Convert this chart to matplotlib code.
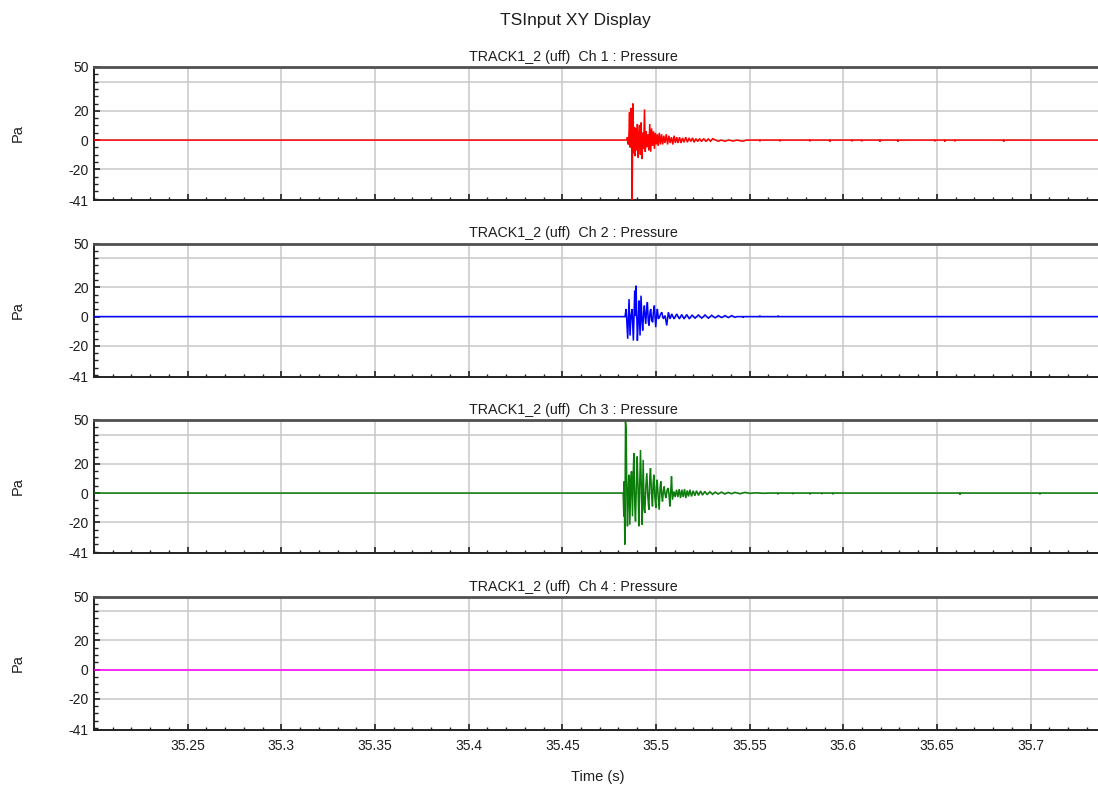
import numpy as np
import matplotlib
matplotlib.use("Agg")
import matplotlib.pyplot as plt
from matplotlib.ticker import FixedLocator, MultipleLocator, NullFormatter

plt.rcParams['font.family'] = ['Liberation Sans', 'DejaVu Sans']

# ---- axes ranges and ticks ----
T_START, T_END = 35.2, 35.736
Y_MIN, Y_MAX = -41, 50
x_major_ticks = [35.25, 35.3, 35.35, 35.4, 35.45, 35.5, 35.55, 35.6, 35.65, 35.7]
x_tick_labels = ['35.25', '35.3', '35.35', '35.4', '35.45', '35.5', '35.55', '35.6', '35.65', '35.7']
y_tick_values = [50, 20, 0, -20, -41]
y_tick_labels = ['50', '20', '0', '-20', '-41']
y_grid_values = [40, 20, 0, -20]

channel_titles = ['TRACK1_2 (uff)  Ch 1 : Pressure', 'TRACK1_2 (uff)  Ch 2 : Pressure',
                  'TRACK1_2 (uff)  Ch 3 : Pressure', 'TRACK1_2 (uff)  Ch 4 : Pressure']
channel_colors = ['#ff0000', '#0000ff', '#0a7d0a', '#ff00ff']

# ---- Ch 1: burst (ms after onset, Pa) + late small blips (s, Pa) ----
ch1_onset = 35.4843
ch1_ms = [0.0, 0.5, 0.9, 1.3, 1.6, 1.9, 2.3, 2.7, 3.0, 3.4, 3.8, 4.2, 4.6, 5.0, 5.4, 5.8,
          6.2, 6.6, 7.0, 7.4, 7.8, 8.2, 8.6, 9.1, 9.6, 10.0, 10.5, 10.9, 11.4, 11.9, 12.4,
          12.9, 13.4, 13.9, 14.4, 14.9, 15.4, 15.9, 16.4, 16.9, 17.5, 18.1, 18.7, 19.3,
          19.9, 20.5, 21.2, 21.9, 22.6, 23.3, 24.0, 24.7, 25.4, 26.1, 26.8, 27.5, 28.3,
          29.1, 29.9, 30.7, 31.6, 32.5, 33.4, 34.3, 35.2, 36.1, 37.0, 38.0, 39.0, 40.0,
          41.2, 42.4, 43.6, 44.8, 46.0, 47.5, 49.0, 50.5, 52.5, 54.5, 57.0, 59.0, 62.0, 64.0]
ch1_pa = [0, 2, -3, 4, 19, -5, 22, 3, -41, 25, -9, 9, -11, 8, -7, 11,
          -12, 4, 10, -10, 12, -13, 5, -6, 21, -8, 6, -5, 4, -7, 11,
          -8, 8, -4, 6, -6, 5, -3, 4, -4, 5, -3, 4, -3,
          3, -2, 4, -3, 3, -2, 2, -3, 3, -2, 2, -2, 2,
          -2, 1.5, -1.5, 2, -1.5, 1.5, -1, 1.5, -1.5, 1, -1, 1, -1,
          1, -1, 0.8, -0.8, 1, 0, -0.8, 0, -0.8, 0, -0.7, 0, -0.8, 0]
ch1_blip_t = [35.5555, 35.5662, 35.5822, 35.5929, 35.6046, 35.6099, 35.6196,
              35.6292, 35.6489, 35.6542, 35.6596, 35.6857]
ch1_blip_pa = [-0.8, -0.8, -0.8, -1.0, -0.8, -0.8, -1.0, -1.0, -0.8, -1.0, -0.8, -1.0]

# ---- Ch 2 ----
ch2_onset = 35.4835
ch2_ms = [0.0, 0.53, 0.89, 1.42, 2.14, 2.67, 3.20, 3.74, 4.45, 5.16, 5.52, 5.87, 6.59,
          7.12, 7.48, 8.01, 8.54, 9.08, 9.43, 9.97, 10.32, 11.04, 11.57, 11.93, 12.46,
          12.82, 13.35, 13.71, 14.24, 14.77, 15.13, 15.66, 16.38, 16.91, 17.27, 17.80,
          18.33, 19.05, 19.58, 20.47, 21.36, 22.25, 23.14, 24.03, 24.92, 26.17, 27.59,
          29.01, 30.26, 31.51, 32.93, 34.35, 35.78, 37.38, 39.16, 40.94, 42.72, 44.50,
          46.28, 48.06, 49.84, 51.62, 53.40, 55.18, 56.96, 58.74, 59.63]
ch2_pa = [0, 5.2, -1.6, -15.2, 12.0, -13.0, 0.7, 5.2, -16.4, 17.7, 0.7, 21.1, -16.4,
          -1.6, 10.9, -13.0, 14.3, -3.9, -9.5, 3.0, 7.5, -5.0, 5.2, 9.8, -3.9,
          -6.1, 3.0, 5.2, -2.7, -3.9, 3.0, 7.5, -7.3, 1.8, 5.2, -1.6,
          -0.5, 1.8, 3.0, -1.6, 0.7, -6.1, 3.0, -1.6, 1.8, -1.6, 1.8,
          -1.6, 1.4, -1.6, 1.4, -1.6, 1.1, -1.1, 1.1, -1.1, 1.1, -1.1,
          0.9, -0.9, 0.7, -0.7, 0.7, -0.7, 0.7, -0.5, 0]
ch2_blip_t = [35.5466, 35.5555, 35.5653]
ch2_blip_pa = [-0.7, 0.6, 0.6]

# ---- Ch 3 ----
ch3_onset = 35.4825
ch3_ms = [0.0, 0.36, 0.53, 0.89, 1.25, 1.60, 1.96, 2.31, 2.67, 3.03, 3.56, 4.09, 4.45,
          4.98, 5.34, 5.70, 6.23, 6.59, 7.12, 7.48, 8.01, 8.37, 8.72, 9.26, 9.79, 10.15,
          10.68, 11.21, 11.57, 12.10, 12.64, 13.17, 13.71, 14.24, 14.60, 15.13, 15.66,
          16.02, 16.38, 16.91, 17.44, 17.80, 18.16, 18.69, 19.22, 19.76, 20.11, 20.65,
          21.00, 21.54, 21.89, 22.43, 22.78, 23.50, 24.03, 24.56, 24.92, 25.45, 25.81,
          26.34, 27.06, 27.77, 28.48, 29.19, 29.90, 30.62, 31.33, 32.04, 32.75, 33.46,
          34.18, 34.89, 35.60, 36.49, 37.38, 38.27, 39.16, 40.23, 41.30, 42.36, 43.61,
          44.86, 46.28, 47.70, 49.13, 50.73, 52.51, 54.29, 56.07, 57.85, 59.63, 62.30,
          64.97, 67.64, 71.20, 74.76, 78.32]
ch3_pa = [0, -15.9, 8.0, -35.2, 48.9, 43.2, 0, -22.7, 0, 12.5, -21.6, 9.1, 14.8,
          -15.9, 11.4, 27.3, -9.1, -19.3, 9.1, 25.0, 0, -22.7, 0, 29.5, -2.3, -21.6,
          22.7, -11.4, -13.6, 4.5, 13.6, -2.3, -11.4, 11.4, 17.0, 0, -9.1,
          6.8, 12.5, -2.3, -10.2, 4.5, 9.1, -2.3, -11.4, 4.5, 8.0, -2.3,
          -5.7, 2.3, 4.5, -1.1, -3.4, 2.3, 3.4, -2.3, -9.1, 2.3, 11.4,
          -4.5, 1.1, -2.7, 2.3, -2.7, 2.7, -3.4, 2.3, -2.7, 2.7, -3.4,
          1.8, -2.3, 2.3, -2.3, 1.6, -1.8, 1.6, -1.6, 1.4, -1.4, 1.1,
          -1.1, 0.9, -0.9, 0.7, -0.7, 0.7, -0.7, 0.5, -0.5, 0.5, -0.5,
          0.5, -0.2, 0.2, -0.2, 0]
ch3_blip_t = [35.5651, 35.5731, 35.5822, 35.5886, 35.5945, 35.6623, 35.7050]
ch3_blip_pa = [-0.8, -0.6, -0.8, -0.6, -0.8, -1.0, -0.8]

# ---- Ch 4: flat ----
ch4_onset = 35.4840
ch4_ms = []
ch4_pa = []
ch4_blip_t = []
ch4_blip_pa = []

channels = [
    (ch1_onset, ch1_ms, ch1_pa, ch1_blip_t, ch1_blip_pa),
    (ch2_onset, ch2_ms, ch2_pa, ch2_blip_t, ch2_blip_pa),
    (ch3_onset, ch3_ms, ch3_pa, ch3_blip_t, ch3_blip_pa),
    (ch4_onset, ch4_ms, ch4_pa, ch4_blip_t, ch4_blip_pa),
]


def trace(onset, ms, pa, blip_t, blip_pa):
    """Assemble one channel's time series over the full window."""
    t = [T_START] + [onset + m / 1000.0 for m in ms]
    p = [0.0] + list(pa)
    for bt, bp in zip(blip_t, blip_pa):
        t += [bt - 0.0003, bt, bt + 0.0003]
        p += [0.0, bp, 0.0]
    t.append(T_END)
    p.append(0.0)
    return np.array(t), np.array(p)


W, H = 1098, 787
fig = plt.figure(figsize=(W / 100, H / 100), dpi=100)
fig.patch.set_facecolor('white')

text_color = '#1e1e1e'
grid_color = '#c8c8c8'

left_px, right_px = 94, 1098
panel_tops = [67, 243.5, 420, 596.5]
panel_h = 133

fig.text(575 / W, 1 - 20 / H, 'TSInput XY Display', ha='center', va='center',
         fontsize=12.5, color=text_color)

for i, (top, ch) in enumerate(zip(panel_tops, channels)):
    ax = fig.add_axes([left_px / W, 1 - (top + panel_h) / H,
                       (right_px - left_px) / W, panel_h / H])
    t, p = trace(*ch)
    ax.plot(t, p, color=channel_colors[i], lw=1.1, zorder=3, solid_joinstyle='miter')

    ax.set_xlim(T_START, T_END)
    ax.set_ylim(Y_MIN, Y_MAX)

    # grid
    for gx in x_major_ticks:
        ax.axvline(gx, color=grid_color, lw=1.1, zorder=1)
    for gy in y_grid_values:
        ax.axhline(gy, color=grid_color, lw=1.1, zorder=1)

    # spines
    ax.spines['right'].set_visible(False)
    ax.spines['top'].set_color('#505050')
    ax.spines['top'].set_linewidth(2.0)
    ax.spines['left'].set_color('#222222')
    ax.spines['left'].set_linewidth(1.4)
    ax.spines['bottom'].set_color('#222222')
    ax.spines['bottom'].set_linewidth(1.4)

    # ticks
    ax.xaxis.set_major_locator(FixedLocator(x_major_ticks))
    ax.xaxis.set_minor_locator(MultipleLocator(0.01))
    ax.yaxis.set_major_locator(FixedLocator(y_tick_values))
    ax.yaxis.set_minor_locator(FixedLocator(list(range(-40, 50, 5))))
    ax.set_yticklabels(y_tick_labels)
    if i == 3:
        ax.set_xticklabels(x_tick_labels)
    else:
        ax.xaxis.set_major_formatter(NullFormatter())
    ax.tick_params(axis='x', which='major', direction='in', length=4.0, width=1.2,
                   color='#222222', labelsize=10, labelcolor=text_color, pad=7,
                   top=False)
    ax.tick_params(axis='x', which='minor', direction='in', length=2.2, width=1.0,
                   color='#222222', top=False)
    ax.tick_params(axis='y', which='major', direction='in', length=4.5, width=1.2,
                   color='#222222', labelsize=10, labelcolor=text_color, pad=4,
                   right=False)
    ax.tick_params(axis='y', which='minor', direction='in', length=3.0, width=1.0,
                   color='#222222', right=False)

    # panel title and y label
    fig.text(573 / W, 1 - (top - 10) / H, channel_titles[i], ha='center', va='center',
             fontsize=10.3, color=text_color)
    fig.text(18 / W, 1 - (top + panel_h / 2) / H, 'Pa', ha='center', va='center',
             rotation=90, fontsize=10.5, color=text_color)

fig.text(598 / W, 1 - 777 / H, 'Time (s)', ha='center', va='center',
         fontsize=10.5, color=text_color)

fig.savefig('out.png', dpi=100, facecolor='white')
